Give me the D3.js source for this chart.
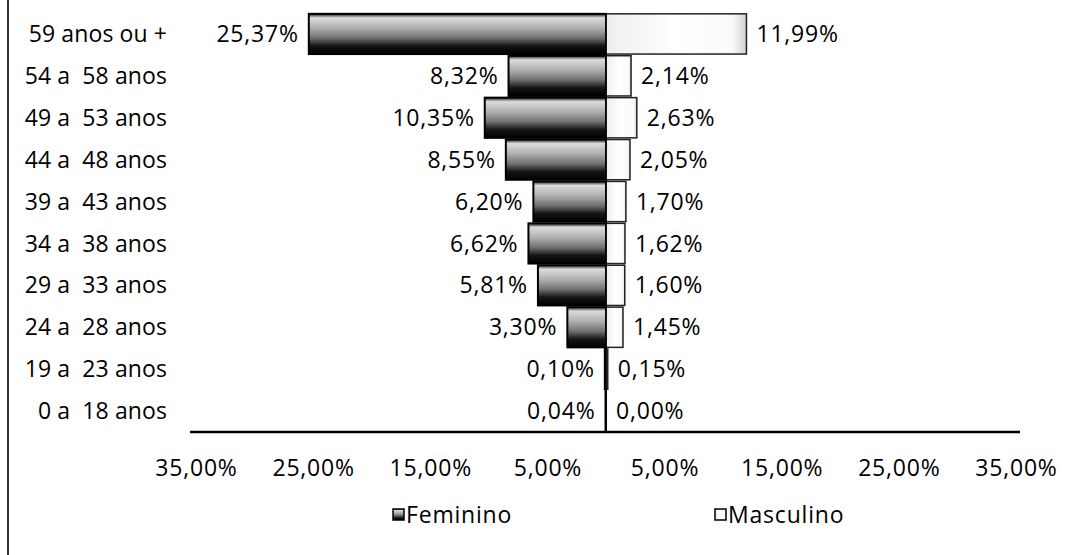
<!DOCTYPE html>
<html>
<head>
<meta charset="utf-8">
<script src="https://cdn.jsdelivr.net/npm/d3@7"></script>
<style>
body { margin: 0; background: #fff; }
text { font-family: "Open Sans", sans-serif; fill: #000; letter-spacing: 0.8px; }
text.cat { letter-spacing: 0.1px; }
</style>
</head>
<body>
<svg width="1084" height="555"></svg>
<script>
var categories = ["59 anos ou +", "54 a  58 anos", "49 a  53 anos", "44 a  48 anos", "39 a  43 anos",
                  "34 a  38 anos", "29 a  33 anos", "24 a  28 anos", "19 a  23 anos", "0 a  18 anos"];
var feminino = [25.37, 8.32, 10.35, 8.55, 6.20, 6.62, 5.81, 3.30, 0.10, 0.04];
var masculino = [11.99, 2.14, 2.63, 2.05, 1.70, 1.62, 1.60, 1.45, 0.15, 0.00];
var tickValues = [-35, -25, -15, -5, 5, 15, 25, 35];
var seriesNames = ["Feminino", "Masculino"];

function main()
{
var svg = d3.select("svg");
var fontSize = 23;

var pct = function(v){ return d3.format(".2f")(Math.abs(v)).replace(".", ",") + "%"; };

// gradients to mimic the bevelled bars
var defs = svg.append("defs");
var gF = defs.append("linearGradient").attr("id", "gFem").attr("x1", 0).attr("y1", 0).attr("x2", 0).attr("y2", 1);
[[0, "#1a1a1a"], [0.1, "#dcdcdc"], [0.35, "#b0b0b0"], [0.6, "#707070"], [0.8, "#141414"], [1, "#000"]]
  .forEach(function(s){ gF.append("stop").attr("offset", s[0]).attr("stop-color", s[1]); });
var gM = defs.append("linearGradient").attr("id", "gMas").attr("x1", 0).attr("y1", 0).attr("x2", 1).attr("y2", 0);
[[0, "#eeeeee"], [0.5, "#ffffff"], [0.9, "#fafafa"], [1, "#d0d0d0"]]
  .forEach(function(s){ gM.append("stop").attr("offset", s[0]).attr("stop-color", s[1]); });

// left frame line
svg.append("line").attr("x1", 8).attr("x2", 8).attr("y1", 0).attr("y2", 555)
  .attr("stroke", "#333").attr("stroke-width", 2);

var x = d3.scaleLinear().domain([-35, 35]).range([196, 1016]);
var y = d3.scaleBand().domain(categories).range([13, 432]).paddingInner(0.04).paddingOuter(0.02);

var g = svg.append("g");

// feminino bars (left)
g.selectAll(".fem").data(categories).enter().append("rect")
  .attr("class", "fem")
  .attr("x", function(d, i){ return x(-feminino[i]); })
  .attr("y", function(d){ return y(d); })
  .attr("width", function(d, i){ return x(0) - x(-feminino[i]); })
  .attr("height", y.bandwidth())
  .attr("fill", "url(#gFem)")
  .attr("stroke", "#000").attr("stroke-width", 2);

// masculino bars (right)
g.selectAll(".mas").data(categories).enter().append("rect")
  .attr("class", "mas")
  .attr("x", x(0))
  .attr("y", function(d){ return y(d); })
  .attr("width", function(d, i){ return x(masculino[i]) - x(0); })
  .attr("height", y.bandwidth())
  .attr("fill", "url(#gMas)")
  .attr("stroke", "#222").attr("stroke-width", 1.5);

// centre line
g.append("line").attr("x1", x(0)).attr("x2", x(0)).attr("y1", 13).attr("y2", 432)
  .attr("stroke", "#000").attr("stroke-width", 1.5);

// value labels
g.selectAll(".lf").data(categories).enter().append("text")
  .attr("x", function(d, i){ return x(-feminino[i]) - 10; })
  .attr("y", function(d){ return y(d) + y.bandwidth() / 2; })
  .attr("dy", "0.35em").attr("text-anchor", "end").attr("font-size", fontSize)
  .text(function(d, i){ return pct(feminino[i]); });

g.selectAll(".lm").data(categories).enter().append("text")
  .attr("x", function(d, i){ return x(masculino[i]) + 10; })
  .attr("y", function(d){ return y(d) + y.bandwidth() / 2; })
  .attr("dy", "0.35em").attr("text-anchor", "start").attr("font-size", fontSize)
  .text(function(d, i){ return pct(masculino[i]); });

// category labels
g.selectAll(".cat").data(categories).enter().append("text")
  .attr("class", "cat")
  .attr("x", 167)
  .attr("y", function(d){ return y(d) + y.bandwidth() / 2; })
  .attr("dy", "0.35em").attr("text-anchor", "end").attr("font-size", fontSize)
  .style("white-space", "pre")
  .text(function(d){ return d; });

// bottom axis
var xAxis = svg.append("g").attr("transform", "translate(0,432)")
  .call(d3.axisBottom(x).tickValues(tickValues).tickSize(0).tickPadding(28).tickFormat(pct));
xAxis.select(".domain").attr("stroke", "#000").attr("stroke-width", 2.5)
  .attr("d", "M190,0H1020");
xAxis.selectAll("text").attr("font-size", fontSize).attr("font-family", "Open Sans").attr("fill", "#000");

// legend
var legend = svg.append("g").attr("transform", "translate(0,515)");
var items = [{name: seriesNames[0], x: 393, fill: "url(#gFem)"}, {name: seriesNames[1], x: 715, fill: "url(#gMas)"}];
var li = legend.selectAll(".leg").data(items).enter().append("g")
  .attr("transform", function(d){ return "translate(" + d.x + ",0)"; });
li.append("rect").attr("x", 0).attr("y", -6).attr("width", 11).attr("height", 11)
  .attr("fill", function(d){ return d.fill; }).attr("stroke", "#000").attr("stroke-width", 1.5);
li.append("text").attr("x", 13).attr("dy", "0.35em").attr("font-size", fontSize)
  .text(function(d){ return d.name; });
}
main();
</script>
</body>
</html>
